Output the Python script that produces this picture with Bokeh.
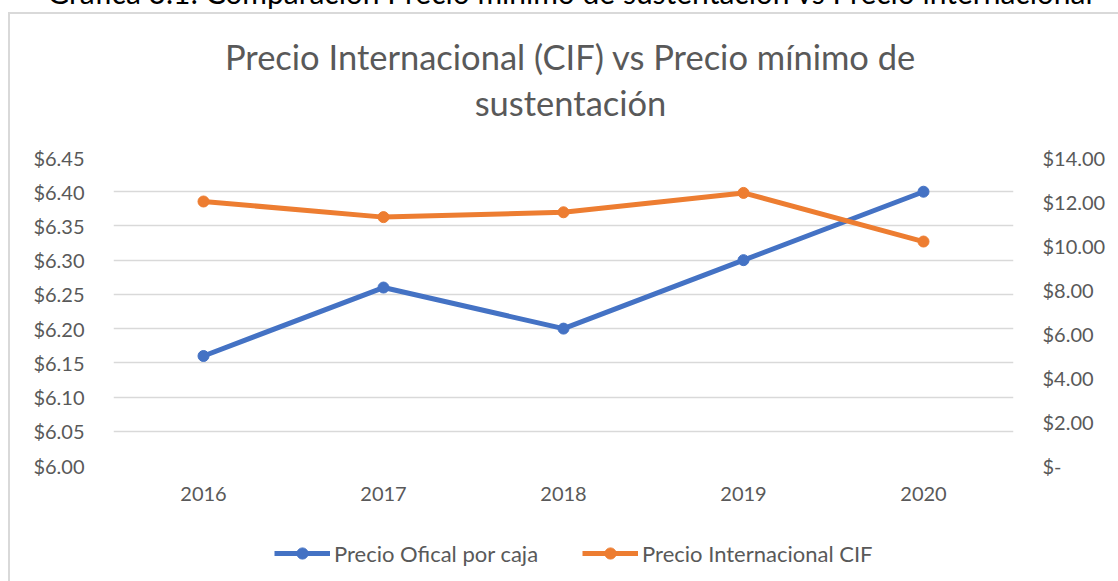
from bokeh.plotting import figure
from bokeh.models import (LinearAxis, Range1d, FactorRange, Legend, LegendItem,
                          FixedTicker, CustomJSTickFormatter, Label, Div)
from bokeh.layouts import column
from bokeh.embed import file_html
from bokeh.resources import INLINE

# ---- data ----
years = ["2016", "2017", "2018", "2019", "2020"]
precio_oficial = [6.16, 6.26, 6.20, 6.30, 6.40]
precio_cif = [12.00, 11.29, 11.51, 12.39, 10.18]
left_ticks = [6.00, 6.05, 6.10, 6.15, 6.20, 6.25, 6.30, 6.35, 6.40, 6.45]
right_ticks = [0, 2, 4, 6, 8, 10, 12, 14]
caption = "Gráfica 3.1: Comparación Precio mínimo de sustentación vs Precio internacional"
title_lines = ["Precio Internacional (CIF) vs Precio mínimo de", "sustentación"]
series_names = ["Precio Ofical por caja", "Precio Internacional CIF"]

BLUE = "#4472C4"
ORANGE = "#ED7D31"
GRID = "#D9D9D9"
TXT = "#595959"
FONT = "Lato"
W = 1118
FRAME_LEFT = 113  # frames of the stacked plots are aligned on this

left_line = "linear-gradient(#D9D9D9,#D9D9D9) 8px 0px / 2px 100% no-repeat"
top_line = "linear-gradient(#D9D9D9,#D9D9D9) 8px 0px / 100% 2px no-repeat"

# ---- caption strip (only its lower part shows, as in the reference) ----
cap = Div(text=('<div style="position:relative; top:-23px; width:1118px; text-align:center; '
                'font-family:Lato; font-size:30px; line-height:30px; color:#000; '
                'white-space:nowrap; margin-left:11px;">' + caption + '</div>'),
          width=W, height=12, margin=(0, 0, 0, 0), styles={"overflow": "hidden"})

# ---- chart title strip ----
tf = figure(width=W, height=130, output_backend="svg", toolbar_location=None,
            x_axis_location=None, y_axis_location=None, title_location=None,
            x_range=Range1d(0, 1), y_range=Range1d(0, 1), min_border=0)
tf.outline_line_color = None
tf.grid.visible = False
tf.border_fill_alpha = 0
tf.background_fill_alpha = 0
tf.styles = {"background": left_line + ", " + top_line + ", white"}
tf.add_layout(Label(x=570 - FRAME_LEFT, y=86, x_units="screen", y_units="screen",
                    text=title_lines[0], text_font=FONT, text_font_size="34.5px",
                    text_color=TXT, text_align="center", text_baseline="middle"))
tf.add_layout(Label(x=570 - FRAME_LEFT, y=40, x_units="screen", y_units="screen",
                    text=title_lines[1], text_font=FONT, text_font_size="34.5px",
                    text_color=TXT, text_align="center", text_baseline="middle"))

# ---- main chart ----
p = figure(width=W, height=378, output_backend="svg", toolbar_location=None,
           title_location=None,
           x_range=FactorRange(*years), y_range=Range1d(6.00, 6.45),
           min_border_left=FRAME_LEFT, min_border_right=105, min_border_top=15, min_border_bottom=55)
p.extra_y_ranges = {"right": Range1d(0, 14)}
p.outline_line_color = None
p.background_fill_color = "white"
p.border_fill_alpha = 0
p.styles = {"background": left_line + ", white"}

p.yaxis.ticker = FixedTicker(ticks=left_ticks)
p.yaxis.formatter = CustomJSTickFormatter(code="return '$' + tick.toFixed(2);")
right_axis = LinearAxis(y_range_name="right", ticker=FixedTicker(ticks=right_ticks),
                        formatter=CustomJSTickFormatter(code="return tick == 0 ? '$-' : '$' + tick.toFixed(2);"))
p.add_layout(right_axis, "right")

for ax in [p.xaxis[0], p.yaxis[0], right_axis]:
    ax.axis_line_color = None
    ax.major_tick_line_color = None
    ax.minor_tick_line_color = None
    ax.major_tick_out = 0
    ax.major_label_text_font = FONT
    ax.major_label_text_font_size = "20px"
    ax.major_label_text_color = TXT
p.yaxis[0].major_label_standoff = 29
right_axis.major_label_standoff = 29
p.xaxis[0].major_label_standoff = 21

p.xgrid.grid_line_color = None
p.ygrid.grid_line_color = GRID
p.ygrid.grid_line_width = 1.5
p.ygrid.ticker = FixedTicker(ticks=left_ticks)

l1 = p.line(years, precio_oficial, line_color=BLUE, line_width=5)
s1 = p.scatter(years, precio_oficial, size=11, fill_color=BLUE, line_color=BLUE)
l2 = p.line(years, precio_cif, line_color=ORANGE, line_width=5, y_range_name="right")
s2 = p.scatter(years, precio_cif, size=11, fill_color=ORANGE, line_color=ORANGE, y_range_name="right")

# ---- legend strip ----
lg = figure(width=W, height=61, output_backend="svg", toolbar_location=None,
            x_axis_location=None, y_axis_location=None, title_location=None,
            x_range=FactorRange(*years), y_range=Range1d(100, 101), min_border=0)
lg.outline_line_color = None
lg.grid.visible = False
lg.border_fill_alpha = 0
lg.background_fill_alpha = 0
lg.styles = {"background": left_line + ", white"}
# same series, drawn outside this strip's range: only their legend glyphs show
g1 = lg.line(years, precio_oficial, line_color=BLUE, line_width=5)
h1 = lg.scatter(years, precio_oficial, size=12, fill_color=BLUE, line_color=BLUE)
g2 = lg.line(years, precio_cif, line_color=ORANGE, line_width=5)
h2 = lg.scatter(years, precio_cif, size=12, fill_color=ORANGE, line_color=ORANGE)

legend = Legend(items=[LegendItem(label=series_names[0], renderers=[g1, h1]),
                       LegendItem(label=series_names[1], renderers=[g2, h2])],
                orientation="horizontal", location=(274 - FRAME_LEFT, 14),
                padding=0, margin=0, spacing=44, glyph_width=56, glyph_height=28,
                label_standoff=4, border_line_color=None, background_fill_alpha=0,
                label_text_font=FONT, label_text_font_size="22px", label_text_color=TXT)
lg.add_layout(legend, "center")

layout = column(cap, tf, p, lg, spacing=0)
open("out.html", "w").write(file_html(layout, INLINE))
